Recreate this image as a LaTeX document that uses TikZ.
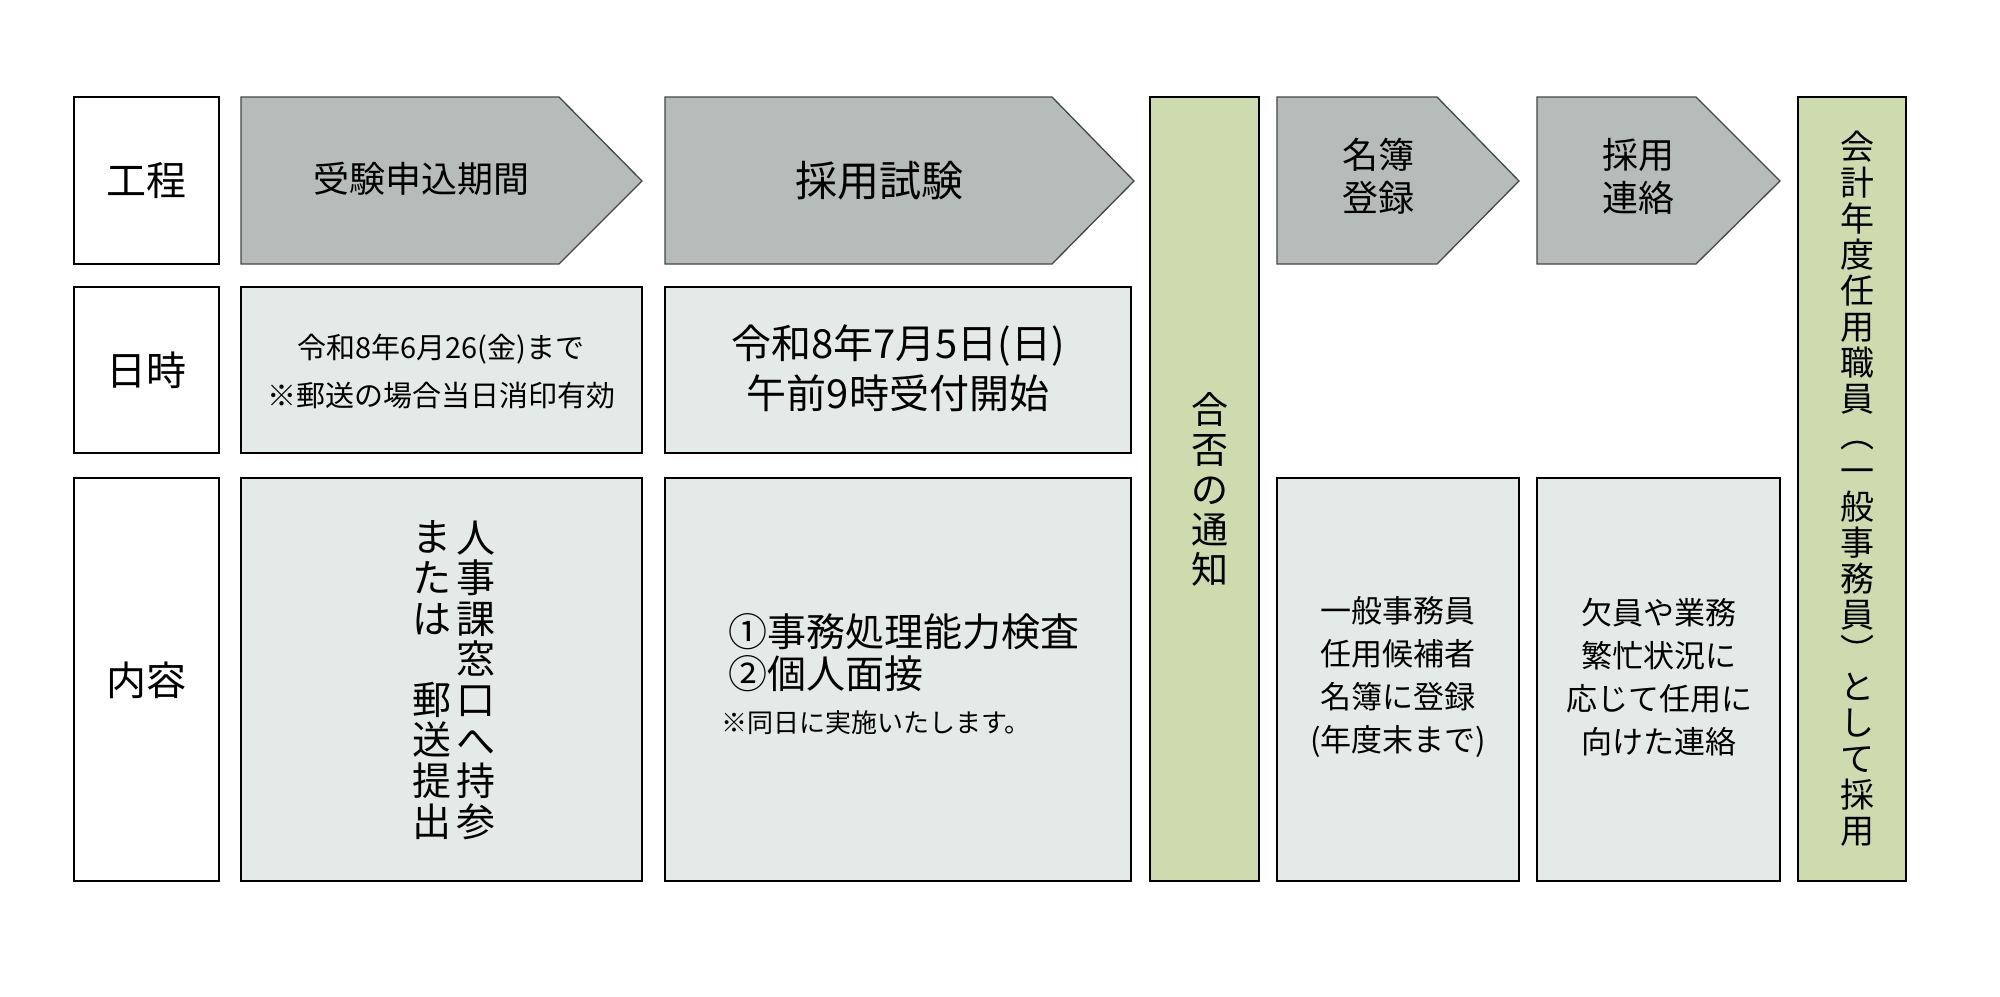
\documentclass[tikz,border=0pt]{standalone}
\usepackage{fontspec}
\setmainfont{Noto Sans CJK JP}
\newcommand{\jfs}[2]{\fontsize{#1}{#2}\selectfont}
\definecolor{arrowgray}{RGB}{181,188,186}
\definecolor{arrowedge}{RGB}{70,70,70}
\definecolor{boxfill}{RGB}{228,234,232}
\definecolor{greenfill}{RGB}{206,219,175}
\begin{document}
\begin{tikzpicture}[x=1pt,y=-1pt,
  lblbox/.style={draw=black, line width=2.5pt, fill=white},
  infobox/.style={draw=black, line width=2.5pt, fill=boxfill},
  greenbox/.style={draw=black, line width=2.5pt, fill=greenfill},
  arrowbox/.style={draw=arrowedge, line width=1.3pt, fill=arrowgray, line join=miter},
  txt/.style={inner sep=0pt, align=center, text=black}]
\useasboundingbox (0,0) rectangle (2000,996);
\fill[white] (0,0) rectangle (2000,996);

% label column
\draw[lblbox] (74,97) rectangle (219,264);
\draw[lblbox] (74,287) rectangle (219,453);
\draw[lblbox] (74,478) rectangle (219,881);
\node[txt, font=\jfs{40}{44}] (lab1) at (146,181) {工程};
\node[txt, font=\jfs{40}{44}] (lab2) at (146,370) {日時};
\node[txt, font=\jfs{40}{44}] (lab3) at (146,680) {内容};

% process arrows
\draw[arrowbox] (241,97) -- (559,97) -- (642,181) -- (559,264) -- (241,264) -- cycle;
\draw[arrowbox] (665,97) -- (1052,97) -- (1134,181) -- (1052,264) -- (665,264) -- cycle;
\draw[arrowbox] (1277,97) -- (1437,97) -- (1519,181) -- (1437,264) -- (1277,264) -- cycle;
\draw[arrowbox] (1537,97) -- (1696,97) -- (1780,181) -- (1696,264) -- (1537,264) -- cycle;
\node[txt, font=\jfs{36}{40}] (p1) at (421,179) {受験申込期間};
\node[txt, font=\jfs{42}{46}] (p2) at (879,181) {採用試験};
\node[txt, font=\jfs{36}{43}] (p3) at (1378,176) {名簿\\登録};
\node[txt, font=\jfs{36}{43}] (p4) at (1638,176) {採用\\連絡};

% date row
\draw[infobox] (241,287) rectangle (642,453);
\draw[infobox] (665,287) rectangle (1131,453);
\node[txt, font=\jfs{29}{48}] (d1) at (441,371) {令和8年6月26(金)まで\\※郵送の場合当日消印有効};
\node[txt, font=\jfs{40}{50}] (d2) at (898,368) {令和8年7月5日(日)\\午前9時受付開始};

% content row
\draw[infobox] (241,478) rectangle (642,881);
\draw[infobox] (665,478) rectangle (1131,881);
\draw[infobox] (1277,478) rectangle (1519,881);
\draw[infobox] (1537,478) rectangle (1780,881);

\node[txt, font=\jfs{39}{40.6}] (c1r) at (476,680) {人\\事\\課\\窓\\口\\へ\\持\\参};
\node[txt, font=\jfs{39}{40.6}] (c1l) at (432,680) {ま\\た\\は\\\phantom{郵}\\郵\\送\\提\\出};

\node[txt, font=\jfs{39}{42}, anchor=west] (c2a) at (728,632) {①事務処理能力検査};
\node[txt, font=\jfs{39}{42}, anchor=west] (c2b) at (728,674) {②個人面接};
\node[txt, font=\jfs{26}{30}, anchor=west] (c2c) at (721,723) {※同日に実施いたします。};

\node[txt, font=\jfs{31}{43}] (c3) at (1398,677) {一般事務員\\任用候補者\\名簿に登録\\(年度末まで)};
\node[txt, font=\jfs{31}{43}] (c4) at (1659,677) {欠員や業務\\繁忙状況に\\応じて任用に\\向けた連絡};

% green columns
\draw[greenbox] (1150,97) rectangle (1259,881);
\draw[greenbox] (1798,97) rectangle (1906,881);
\node[txt, font=\jfs{37}{40}] (g1) at (1210,489) {合\\否\\の\\通\\知};
\node[txt, font=\jfs{34}{36}] (g2) at (1857,489) {会\\計\\年\\度\\任\\用\\職\\員\\︵\\一\\般\\事\\務\\員\\︶\\と\\し\\て\\採\\用};
\end{tikzpicture}
\end{document}
